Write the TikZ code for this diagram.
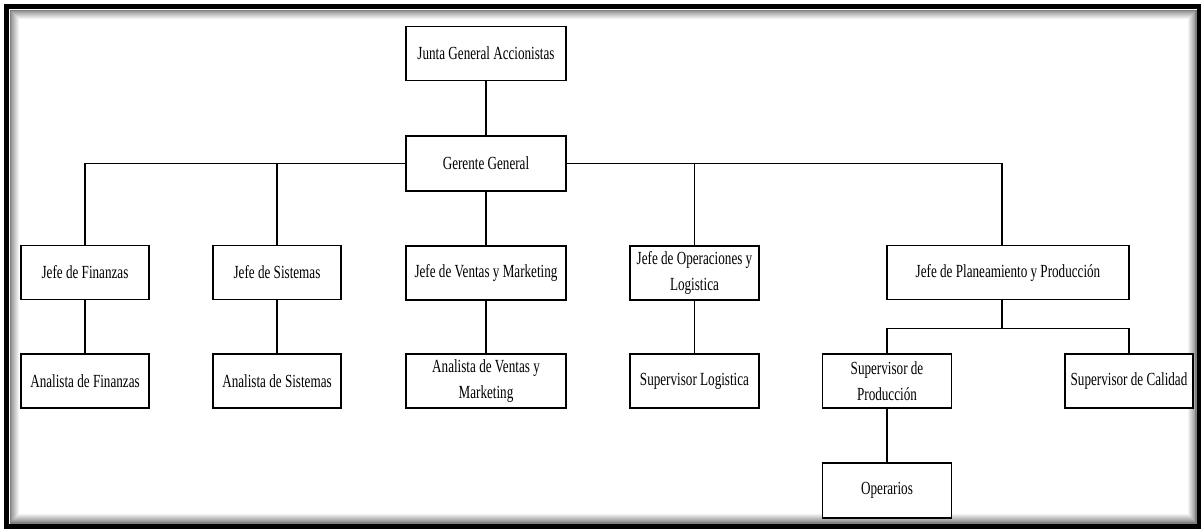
\documentclass[tikz,border=0pt]{standalone}
\usepackage{fontspec}
\setmainfont{Liberation Serif}[FakeStretch=0.71]
\usetikzlibrary{positioning}

\tikzset{
  box/.style={draw, line width=1.2pt, fill=white, minimum height=54, align=center,
    inner sep=2pt, font=\fontsize{18.5}{26}\selectfont},
  link/.style={line width=1.1pt},
}

\begin{document}
\begin{tikzpicture}[x=1pt, y=-1pt]
\useasboundingbox (0,0) rectangle (1201,528);

% Frame
\foreach \i in {1,...,8} {
    \draw[black!\the\numexpr 45-5*\i\relax, line width=1pt] (10.5+\i,10.5+\i) rectangle (1196-\i,522-\i);
}
\draw[gray, line width=1.2pt] (10.5,10.5) rectangle (1196,523);
\draw[line width=4.5pt] (6.5,6.5) rectangle (1199,526.5);

% Boxes
\node[box, minimum width=160] (jga) at (486,53.5) {Junta General Accionistas};
\node[box, minimum width=160, minimum height=55] (ger) at (486,163.5) {Gerente General};

\node[box, minimum width=128] (fin) at (85,272.5) {Jefe de Finanzas};
\node[box, minimum width=128] (sis) at (277,272.5) {Jefe de Sistemas};
\node[box, minimum width=160] (ven) at (486,273) {Jefe de Ventas y Marketing};
\node[box, minimum width=129] (ops) at (694.5,273) {Jefe de Operaciones y\\Logistica};
\node[box, minimum width=242] (pla) at (1008,272.5) {Jefe de Planeamiento y Producción};

\node[box, minimum width=128] (afin) at (85,381) {Analista de Finanzas};
\node[box, minimum width=128] (asis) at (277,381) {Analista de Sistemas};
\node[box, minimum width=160] (aven) at (486,381) {Analista de Ventas y\\Marketing};
\node[box, minimum width=129] (slog) at (694.5,381) {Supervisor Logistica};
\node[box, minimum width=129] (sprod) at (887,381) {Supervisor de\\Producción};
\node[box, minimum width=128] (scal) at (1129,381) {Supervisor de Calidad};

\node[box, minimum width=129, minimum height=55] (oper) at (887,490.5) {Operarios};

% Lines
\draw[link] (jga) -- (ger);
\draw[link] (ger.west) -| (fin.north);
\draw[link] (ger.west) -| (sis.north);
\draw[link] (ger) -- (ven);
\draw[link] (ger.east) -| (ops.north);
\draw[link] (ger.east) -| ([xshift=-6pt]pla.north);

\foreach \a/\b in {fin/afin, sis/asis, ven/aven, ops/slog, sprod/oper} {
    \draw[link] (\a) -- (\b);
}

\draw[link] ([xshift=-6pt]pla.south) -- ++(0,28) coordinate (bar);
\draw[link] (bar) -| (sprod.north);
\draw[link] (bar) -| (scal.north);

\end{tikzpicture}
\end{document}
